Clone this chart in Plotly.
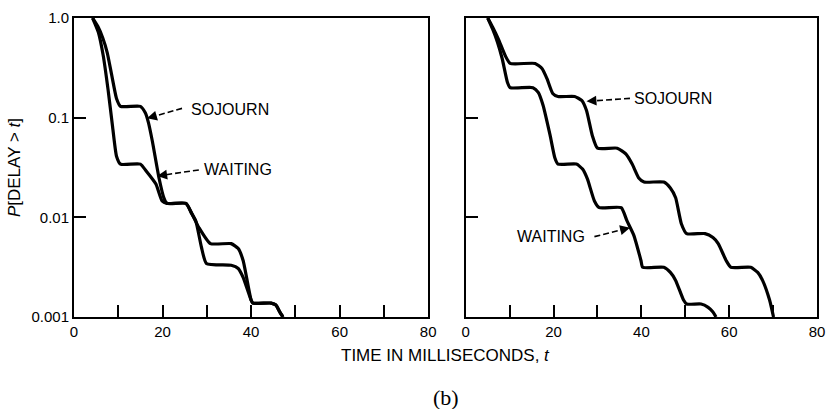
import math
import plotly.graph_objects as go

# ---------------- data ----------------
# Left panel
left_t_soj = [4.2, 5.4, 6.5, 7.5, 8.5, 9.6, 10.5, 15.0, 16.1, 16.8, 17.7, 19.2, 20.3, 21.0,
              25.3, 26.6, 28.2, 30.8, 35.5, 37.1, 38.2, 40.0, 40.4, 44.5, 45.6, 46.5, 47.2]
left_p_soj = [1.0, 0.82, 0.63, 0.45, 0.27, 0.156, 0.13, 0.13, 0.112, 0.0898, 0.058, 0.0248, 0.0157, 0.0138,
              0.0138, 0.0109, 0.0079, 0.00545, 0.00545, 0.00486, 0.00369, 0.00148, 0.00138, 0.00138, 0.00132, 0.00112, 0.001]
left_t_wait = [4.2, 5.5, 6.6, 7.7, 8.7, 9.6, 10.5, 15.0, 16.3, 18.5, 19.9, 21.0,
               25.3, 26.6, 27.5, 28.8, 29.9, 35.5, 37.1, 38.2, 40.0, 40.4, 44.5, 45.6, 46.5, 47.2]
left_p_wait = [1.0, 0.72, 0.42, 0.19, 0.082, 0.041, 0.0342, 0.0342, 0.0292, 0.0216, 0.0146, 0.0138,
               0.0138, 0.0109, 0.00925, 0.00498, 0.00345, 0.0033, 0.00307, 0.0025, 0.00148, 0.00138, 0.00138, 0.00132, 0.00112, 0.001]

# Right panel
right_t_soj = [5.0, 6.1, 7.4, 9.0, 10.1, 15.8, 17.4, 18.5, 19.8, 21.0, 24.8, 26.4, 27.5, 28.8, 30.0,
               34.5, 36.5, 37.9, 39.4, 40.6, 45.1, 46.6, 47.8, 49.1, 50.3, 54.5, 56.3, 57.5, 59.3, 60.4,
               64.9, 66.5, 67.6, 69.2, 70.1]
right_p_soj = [1.0, 0.813, 0.618, 0.418, 0.35, 0.35, 0.31, 0.246, 0.175, 0.163, 0.163, 0.149, 0.118, 0.0667, 0.0494,
               0.0494, 0.043, 0.0342, 0.0248, 0.0226, 0.0226, 0.0197, 0.0157, 0.00863, 0.00687, 0.00687, 0.00626, 0.00545, 0.00369, 0.00315,
               0.00315, 0.0028, 0.00233, 0.00148, 0.001]
right_t_wait = [5.0, 6.1, 7.2, 8.3, 9.5, 10.1, 15.3, 16.5, 17.6, 19.2, 20.3, 21.0, 25.2, 26.6, 27.7, 29.3, 30.4,
                35.4, 36.7, 38.3, 39.9, 40.3, 45.1, 46.6, 47.8, 49.6, 50.3, 53.6, 55.2, 56.3, 57.0]
right_p_wait = [1.0, 0.777, 0.576, 0.39, 0.225, 0.2, 0.2, 0.179, 0.133, 0.0667, 0.0393, 0.0342, 0.0342, 0.0305, 0.0243, 0.0146, 0.0125,
                0.0125, 0.00925, 0.00656, 0.00369, 0.00315, 0.00315, 0.0028, 0.00233, 0.00148, 0.00135, 0.00135, 0.00125, 0.00112, 0.001]

x_tickvals = [0, 10, 20, 30, 40, 50, 60, 70, 80]
x_ticktext = ["0", "", "20", "", "40", "", "60", "", "80"]
y_tickvals = [0.001, 0.01, 0.1, 1.0]
y_ticktext = ["0.001", "0.01", "0.1", "1.0"]

# curve labels: text, panel, text x, text y, dashed-line start (x, y), arrow tip (x, y), text anchor
label_text = ["SOJOURN", "WAITING", "SOJOURN", "WAITING"]
label_panel = [1, 1, 2, 2]
label_tx = [25.9, 28.8, 37.9, 27.7]
label_ty = [0.121, 0.0299, 0.156, 0.0064]
label_sx = [24.4, 28.2, 37.4, 29.3]
label_sy = [0.124, 0.0299, 0.156, 0.0064]
label_ex = [16.5, 18.8, 27.5, 37.4]
label_ey = [0.0984, 0.026, 0.146, 0.00787]
label_anchor = ["left", "left", "left", "right"]

# ---------------- figure ----------------
FONT = "Liberation Sans, Arial, sans-serif"
LW = 3.2

fig = go.Figure()

def curve(t, p, xa, ya):
    fig.add_trace(go.Scatter(x=t, y=p, mode="lines", xaxis=xa, yaxis=ya,
                             line=dict(color="black", width=LW, shape="spline", smoothing=0.5),
                             showlegend=False, hoverinfo="skip"))

curve(left_t_soj, left_p_soj, "x", "y")
curve(left_t_wait, left_p_wait, "x", "y")
curve(right_t_soj, right_p_soj, "x2", "y2")
curve(right_t_wait, right_p_wait, "x2", "y2")

for i, text in enumerate(label_text):
    xa = "x" if label_panel[i] == 1 else "x2"
    ya = "y" if label_panel[i] == 1 else "y2"
    sx, sy, ex, ey = label_sx[i], label_sy[i], label_ex[i], label_ey[i]
    mx = ex + (sx - ex) * 0.2
    my = 10 ** (math.log10(ey) + (math.log10(sy) - math.log10(ey)) * 0.2)
    fig.add_trace(go.Scatter(x=[sx, mx], y=[sy, my], mode="lines", xaxis=xa, yaxis=ya,
                             line=dict(color="black", width=1.6, dash="6px,3px"),
                             showlegend=False, hoverinfo="skip"))
    fig.add_annotation(x=label_tx[i], y=math.log10(label_ty[i]), xref=xa, yref=ya, text=text,
                       showarrow=False, xanchor=label_anchor[i], yanchor="middle",
                       font=dict(family=FONT, size=16, color="black"))
    fig.add_annotation(x=ex, y=math.log10(ey), xref=xa, yref=ya, text="", showarrow=True,
                       axref=xa, ayref=ya, ax=mx, ay=math.log10(my),
                       arrowhead=2, arrowsize=1.1, arrowwidth=1.8, arrowcolor="black")

axis_common = dict(showline=True, linecolor="black", linewidth=2, mirror=True,
                   showgrid=False, zeroline=False, ticks="inside", ticklen=12,
                   tickwidth=2, tickcolor="black",
                   tickfont=dict(family=FONT, size=15, color="black"))

fig.update_layout(
    width=834, height=409,
    margin=dict(l=74, r=9, t=16, b=92),
    paper_bgcolor="white", plot_bgcolor="white",
    xaxis=dict(domain=[0, 0.4767], range=[0, 80], tickvals=x_tickvals, ticktext=x_ticktext, **axis_common),
    xaxis2=dict(domain=[0.5273, 1], range=[0, 80], tickvals=x_tickvals, ticktext=x_ticktext, anchor="y2", **axis_common),
    yaxis=dict(type="log", range=[-3, 0], tickvals=y_tickvals, ticktext=y_ticktext, **axis_common),
    yaxis2=dict(type="log", range=[-3, 0], tickvals=[0.01, 0.1], ticktext=["", ""], anchor="x2", **axis_common),
)

fig.add_annotation(x=-0.08, y=0.5, xref="paper", yref="paper", text="<i>P</i>[DELAY &gt; <i>t</i>]",
                   textangle=-90, showarrow=False, xanchor="center", yanchor="middle",
                   font=dict(family=FONT, size=17, color="black"))
fig.add_annotation(x=0.5, y=-0.13, xref="paper", yref="paper", yanchor="middle",
                   text="TIME IN MILLISECONDS, <i>t</i>", showarrow=False,
                   font=dict(family=FONT, size=17, color="black"))
fig.add_annotation(x=0.5, y=-0.27, xref="paper", yref="paper", yanchor="middle",
                   text="(b)", showarrow=False,
                   font=dict(family="Liberation Serif, serif", size=22, color="black"))

fig.write_html("out.html")
